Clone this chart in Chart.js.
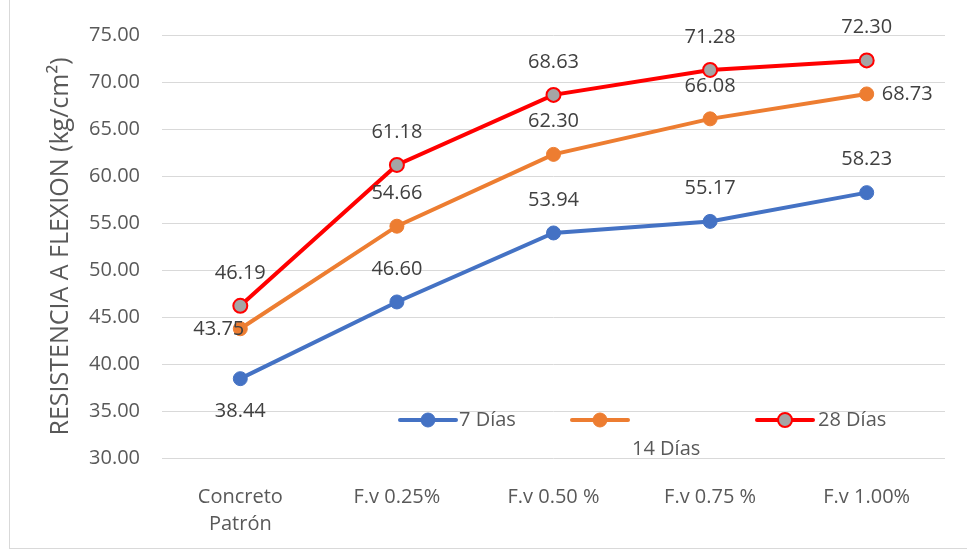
<!DOCTYPE html>
<html>
<head>
<meta charset="utf-8">
<script src="https://cdn.jsdelivr.net/npm/chart.js@4"></script>
<style>
  html, body { margin: 0; padding: 0; background: #fff; }
  #wrap { position: relative; width: 967px; height: 551px; }
</style>
</head>
<body>
<div id="wrap"><canvas id="c" width="967" height="551"></canvas></div>
<script>
const categories = [["Concreto", "Patrón"], "F.v 0.25%", "F.v 0.50 %", "F.v 0.75 %", "F.v 1.00%"];
const dias7 = [38.44, 46.60, 53.94, 55.17, 58.23];
const dias14 = [43.75, 54.66, 62.30, 66.08, 68.73];
const dias28 = [46.19, 61.18, 68.63, 71.28, 72.30];
const seriesNames = ["7 Días", "14 Días", "28 Días"];
const yTicks = [30, 35, 40, 45, 50, 55, 60, 65, 70, 75];

// where Excel put each data label
const labelPos = [
  ["below", "above", "above", "above", "above"],
  ["left", "above", "above", "above", "right"],
  ["above", "above", "above", "above", "above"]
];

const FONT = "'Open Sans', sans-serif";
const TXT = "#595959";

const frame = {
  id: "frame",
  beforeDraw(chart) {
    const ctx = chart.ctx;
    ctx.save();
    ctx.strokeStyle = "#D9D9D9";
    ctx.lineWidth = 1;
    ctx.strokeRect(9.5, -1, 967, 549.5);
    ctx.restore();
  }
};

const dataLabels = {
  id: "dataLabels",
  afterDatasetsDraw(chart) {
    const ctx = chart.ctx;
    ctx.save();
    ctx.font = "20px " + FONT;
    ctx.fillStyle = "#404040";
    chart.data.datasets.forEach((ds, di) => {
      const meta = chart.getDatasetMeta(di);
      meta.data.forEach((pt, i) => {
        const txt = ds.data[i].toFixed(2);
        const pos = labelPos[di][i];
        let x = pt.x, y = pt.y;
        ctx.textBaseline = "middle";
        ctx.textAlign = "center";
        if (pos === "above") y -= 33;
        else if (pos === "below") y += 33;
        else if (pos === "left") { ctx.textAlign = "right"; x += 4; y += 1; }
        else if (pos === "right") { ctx.textAlign = "left"; x += 15; }
        ctx.fillText(txt, x, y);
      });
    });
    ctx.restore();
  }
};

const legendBox = {
  id: "legendBox",
  afterDraw(chart) {
    const ctx = chart.ctx;
    const items = [
      { x: 400, tx: 459, ty: 420 },
      { x: 572, tx: 632, ty: 449 },
      { x: 757, tx: 818, ty: 420 }
    ];
    ctx.save();
    chart.data.datasets.forEach((ds, i) => {
      const it = items[i];
      const y = 420;
      ctx.strokeStyle = ds.borderColor;
      ctx.lineWidth = 4;
      ctx.lineCap = "round";
      ctx.beginPath();
      ctx.moveTo(it.x, y);
      ctx.lineTo(it.x + 56, y);
      ctx.stroke();
      ctx.beginPath();
      ctx.arc(it.x + 28, y, 7, 0, Math.PI * 2);
      ctx.fillStyle = ds.pointBackgroundColor;
      ctx.fill();
      ctx.lineWidth = ds.pointBorderWidth;
      ctx.strokeStyle = ds.pointBorderColor;
      ctx.stroke();
      ctx.fillStyle = TXT;
      ctx.font = "20px " + FONT;
      ctx.textAlign = "left";
      ctx.textBaseline = "middle";
      ctx.fillText(ds.label, it.tx, it.ty);
    });
    ctx.restore();
  }
};

new Chart(document.getElementById("c"), {
  type: "line",
  data: {
    labels: categories,
    datasets: [
      {
        label: seriesNames[0], data: dias7,
        borderColor: "#4472C4", backgroundColor: "#4472C4",
        pointBackgroundColor: "#4472C4", pointBorderColor: "#4472C4", pointBorderWidth: 1
      },
      {
        label: seriesNames[1], data: dias14,
        borderColor: "#ED7D31", backgroundColor: "#ED7D31",
        pointBackgroundColor: "#ED7D31", pointBorderColor: "#ED7D31", pointBorderWidth: 1
      },
      {
        label: seriesNames[2], data: dias28,
        borderColor: "#FF0000", backgroundColor: "#FF0000",
        pointBackgroundColor: "#A5A5A5", pointBorderColor: "#FF0000", pointBorderWidth: 2
      }
    ]
  },
  options: {
    responsive: false,
    animation: false,
    elements: {
      line: { borderWidth: 4, tension: 0, borderCapStyle: "round" },
      point: { radius: 7, hoverRadius: 7 }
    },
    layout: { padding: { top: 35, right: 22, left: 0, bottom: 0 } },
    plugins: {
      legend: { display: false },
      tooltip: { enabled: false }
    },
    scales: {
      x: {
        offset: true,
        grid: { display: false },
        border: { display: false },
        ticks: {
          color: TXT, font: { family: FONT, size: 20, lineHeight: 1.35 },
          padding: 18, maxRotation: 0, autoSkip: false
        },
        afterFit(scale) { scale.height = 93; }
      },
      y: {
        min: 30, max: 75,
        afterBuildTicks(scale) { scale.ticks = yTicks.map(v => ({ value: v })); },
        grid: { color: "#D9D9D9", lineWidth: 1, drawTicks: false },
        border: { display: false },
        ticks: {
          color: TXT, font: { family: FONT, size: 20 }, padding: 22,
          callback: (v) => Number(v).toFixed(2)
        },
        title: {
          display: true, text: "RESISTENCIA A FLEXION (kg/cm²)",
          color: TXT, font: { family: FONT, size: 25 },
          padding: { top: 46, bottom: 0 }
        },
        afterFit(scale) { scale.width = 162; }
      }
    }
  },
  plugins: [frame, dataLabels, legendBox]
});
</script>
</body>
</html>
